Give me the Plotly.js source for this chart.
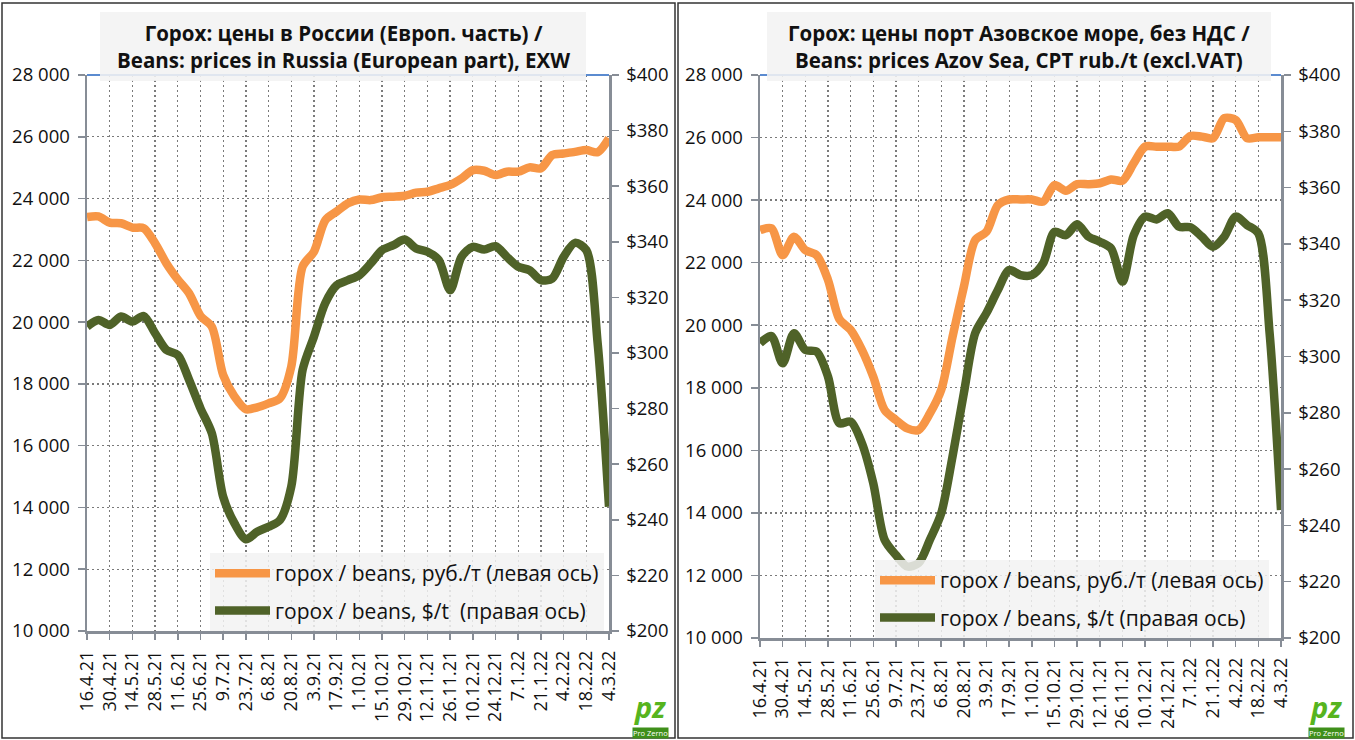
<!DOCTYPE html>
<html>
<head>
<meta charset="utf-8">
<script src="https://cdn.plot.ly/plotly-3.0.1.min.js"></script>
<style>
html,body{margin:0;padding:0;background:#fff;}
#chart{width:1355px;height:740px;}
</style>
</head>
<body>
<div id="chart"></div>
<script>
// ---------------- DATA ----------------
const weeks = [
  '2021-04-16','2021-04-23','2021-04-30','2021-05-07','2021-05-14','2021-05-21','2021-05-28',
  '2021-06-04','2021-06-11','2021-06-18','2021-06-25','2021-07-02','2021-07-09','2021-07-16',
  '2021-07-23','2021-07-30','2021-08-06','2021-08-13','2021-08-20','2021-08-27','2021-09-03',
  '2021-09-10','2021-09-17','2021-09-24','2021-10-01','2021-10-08','2021-10-15','2021-10-22',
  '2021-10-29','2021-11-05','2021-11-12','2021-11-19','2021-11-26','2021-12-03','2021-12-10',
  '2021-12-17','2021-12-24','2021-12-31','2022-01-07','2022-01-14','2022-01-21','2022-01-28',
  '2022-02-04','2022-02-11','2022-02-18','2022-02-25','2022-03-04'
];
const tickDates = [
  '2021-04-16','2021-04-30','2021-05-14','2021-05-28','2021-06-11','2021-06-25','2021-07-09',
  '2021-07-23','2021-08-06','2021-08-20','2021-09-03','2021-09-17','2021-10-01','2021-10-15',
  '2021-10-29','2021-11-12','2021-11-26','2021-12-10','2021-12-24','2022-01-07','2022-01-21',
  '2022-02-04','2022-02-18','2022-03-04'
];
const tickLabels = [
  '16.4.21','30.4.21','14.5.21','28.5.21','11.6.21','25.6.21','9.7.21','23.7.21','6.8.21',
  '20.8.21','3.9.21','17.9.21','1.10.21','15.10.21','29.10.21','12.11.21','26.11.21',
  '10.12.21','24.12.21','7.1.22','21.1.22','4.2.22','18.2.22','4.3.22'
];

// Left panel: Russia (European part), EXW
const russiaRub = [
  23400,23420,23220,23200,23060,23040,22550,21900,21380,20930,20200,19850,18290,17590,
  17180,17240,17370,17530,18560,21800,22280,23300,23580,23850,23970,23950,24040,24060,
  24090,24190,24220,24330,24440,24650,24920,24900,24760,24870,24870,25010,24980,25410,
  25460,25510,25570,25500,25950
];
const russiaUsd = [
  309.5,311.9,310.1,313.1,311.3,313.3,307.1,301.1,299.3,290.3,280.1,271.1,248.3,238.7,
  233.0,235.7,237.5,239.9,251.9,293.9,305.9,318.0,324.4,326.2,328.0,332.2,337.0,338.8,
  340.8,337.6,336.4,333.4,322.6,334.6,338.2,337.2,338.4,334.6,331.0,329.8,326.2,326.8,
  334.6,339.6,337.0,303.5,244.7
];

// Right panel: Azov Sea port, CPT, excl. VAT
const azovRub = [
  23040,23100,22240,22830,22400,22240,21450,20200,19850,19210,18350,17290,16970,16700,
  16650,17180,17930,19630,21230,22720,22990,23840,24020,24020,24020,23950,24480,24300,
  24510,24510,24540,24660,24620,25180,25710,25710,25710,25710,26050,26030,25980,26620,
  26560,25980,26010,26010,26010
];
const azovUsd = [
  304.7,307.3,297.6,308.3,302.3,301.7,292.9,276.3,276.9,269.2,255.0,234.9,229.5,225.4,
  226.6,234.9,244.3,264.5,287.0,308.3,315.5,323.6,330.7,328.9,328.9,333.1,344.3,343.1,
  347.0,342.6,340.8,338.4,326.6,343.1,349.7,348.7,350.9,346.1,345.9,342.6,339.0,342.6,
  349.7,346.7,343.7,308.0,245.5
];

const seriesNames = ['горох / beans, руб./т (левая ось)', 'горох / beans, $/t  (правая ось)', 'горох / beans, $/t (правая ось)'];
const titles = [
  'Горох: цены в России (Европ. часть) /<br>Beans: prices in Russia (European part), EXW',
  'Горох: цены порт Азовское море, без НДС /<br>Beans: prices Azov Sea, CPT rub./t (excl.VAT)'
];

// ---------------- STYLE ----------------
const W = 1355, H = 740;
const px = v => v / W;
const py = v => 1 - v / H;
const FONT = '"Open Sans", "Noto Sans", sans-serif';
const ORANGE = '#F79646';
const GREEN = '#4F6228';
const AXIS = '#878d96';
const GRID = '#7a7a7a';
const DASH = '2px,3px';
const LW = 8.5;

function lineTrace(x, y, name, color, xa, ya, legend, group) {
  return {
    type: 'scatter', mode: 'lines', x: x, y: y, name: name,
    xaxis: xa, yaxis: ya, legend: legend, legendgroup: group,
    line: {color: color, width: LW, shape: 'spline', smoothing: 0.8},
    hoverinfo: 'x+y'
  };
}

const traces = [
  lineTrace(weeks, russiaRub, seriesNames[0], ORANGE, 'x', 'y', 'legend', 'a'),
  lineTrace(weeks, russiaUsd, seriesNames[1], GREEN, 'x', 'y2', 'legend', 'b'),
  lineTrace(weeks, azovRub, seriesNames[0], ORANGE, 'x2', 'y3', 'legend2', 'c'),
  lineTrace(weeks, azovUsd, seriesNames[2], GREEN, 'x2', 'y4', 'legend2', 'd')
];

function xAxis(d0, d1, anchor) {
  return {
    domain: [px(d0), px(d1)], anchor: anchor, type: 'date',
    range: [weeks[0], weeks[weeks.length - 1]],
    tickmode: 'array', tickvals: tickDates, ticktext: tickLabels, tickangle: -90,
    tickfont: {family: FONT, size: 18, color: '#111'},
    showgrid: true, gridcolor: GRID, griddash: DASH, gridwidth: 1.3,
    showline: true, linecolor: AXIS, linewidth: 2.5,
    ticks: 'outside', ticklen: 6, tickwidth: 1.5, tickcolor: AXIS,
    ticklabelstandoff: 4, zeroline: false, fixedrange: true
  };
}
function yLeft(top, bottom, anchor) {
  return {
    domain: [py(bottom), py(top)], anchor: anchor,
    range: [10000, 28000], tick0: 10000, dtick: 2000, tickformat: ',d',
    tickfont: {family: FONT, size: 18.5, color: '#111'},
    showgrid: true, gridcolor: GRID, griddash: DASH, gridwidth: 1.3,
    showline: true, linecolor: AXIS, linewidth: 2.5,
    ticks: 'outside', ticklen: 7, tickwidth: 1.5, tickcolor: AXIS,
    ticklabelstandoff: 4, zeroline: false, fixedrange: true
  };
}
function yRight(over, anchor) {
  return {
    overlaying: over, side: 'right', anchor: anchor,
    range: [200, 400], tick0: 200, dtick: 20, tickprefix: '$', tickformat: 'd',
    tickfont: {family: FONT, size: 18.5, color: '#111'},
    showgrid: false,
    showline: true, linecolor: AXIS, linewidth: 2.5,
    ticks: 'outside', ticklen: 7, tickwidth: 1.5, tickcolor: AXIS,
    ticklabelstandoff: 4, zeroline: false, fixedrange: true
  };
}

function legendBox(x, yBottom) {
  return {
    x: px(x), y: py(yBottom), xanchor: 'left', yanchor: 'bottom',
    bgcolor: 'rgba(242,242,242,0.85)', borderwidth: 0,
    font: {family: FONT, size: 21, color: '#111'},
    itemwidth: 55, tracegroupgap: 7, traceorder: 'grouped'
  };
}

const shapes = [
  // panel borders
  {type: 'rect', xref: 'paper', yref: 'paper', x0: px(2), x1: px(675), y0: py(738), y1: py(3),
   line: {color: '#333', width: 1.5}},
  {type: 'rect', xref: 'paper', yref: 'paper', x0: px(678), x1: px(1353), y0: py(738), y1: py(3),
   line: {color: '#333', width: 1.5}},
  // blue top edges of plot areas
  {type: 'line', xref: 'paper', yref: 'paper', x0: px(87), x1: px(609), y0: py(75), y1: py(75),
   line: {color: '#5b8bd0', width: 2}},
  {type: 'line', xref: 'paper', yref: 'paper', x0: px(760), x1: px(1281), y0: py(75), y1: py(75),
   line: {color: '#5b8bd0', width: 2}},
  // title boxes
  {type: 'rect', xref: 'paper', yref: 'paper', x0: px(100), x1: px(586), y0: py(81), y1: py(12),
   fillcolor: 'rgba(242,242,242,0.88)', line: {width: 0}},
  {type: 'rect', xref: 'paper', yref: 'paper', x0: px(767), x1: px(1271), y0: py(81), y1: py(12),
   fillcolor: 'rgba(242,242,242,0.88)', line: {width: 0}}
];

function logo(cx) {
  return [
    {xref: 'paper', yref: 'paper', x: px(cx), y: py(706), xanchor: 'center', yanchor: 'middle',
     text: '<b><i>pz</i></b>', showarrow: false,
     font: {family: FONT, size: 29, color: '#56b41e'}},
    {xref: 'paper', yref: 'paper', x: px(cx), y: py(733), xanchor: 'center', yanchor: 'middle',
     text: 'Pro Zerno', showarrow: false, bgcolor: '#3f8f1a', borderpad: 0,
     font: {family: FONT, size: 7.5, color: '#fff'}}
  ];
}

const annotations = [
  {xref: 'paper', yref: 'paper', x: px(343), y: py(46), xanchor: 'center', yanchor: 'middle',
   text: '<b>' + titles[0] + '</b>', showarrow: false,
   font: {family: FONT, size: 20.5, color: '#111'}},
  {xref: 'paper', yref: 'paper', x: px(1019), y: py(46), xanchor: 'center', yanchor: 'middle',
   text: '<b>' + titles[1] + '</b>', showarrow: false,
   font: {family: FONT, size: 20.5, color: '#111'}}
].concat(logo(650), logo(1326));

const layout = {
  width: W, height: H, autosize: false,
  margin: {l: 0, r: 0, t: 0, b: 0, pad: 0},
  paper_bgcolor: '#fff', plot_bgcolor: '#fff',
  separators: ', ',
  font: {family: FONT, color: '#111'},
  showlegend: true,
  xaxis: xAxis(87, 609, 'y'),
  yaxis: yLeft(75, 631, 'x'),
  yaxis2: yRight('y', 'x'),
  xaxis2: xAxis(760, 1281, 'y3'),
  yaxis3: yLeft(75, 638, 'x2'),
  yaxis4: yRight('y3', 'x2'),
  legend: legendBox(210, 631),
  legend2: legendBox(875, 638),
  shapes: shapes,
  annotations: annotations
};

Plotly.newPlot('chart', traces, layout, {displayModeBar: false, staticPlot: true});
</script>
</body>
</html>
